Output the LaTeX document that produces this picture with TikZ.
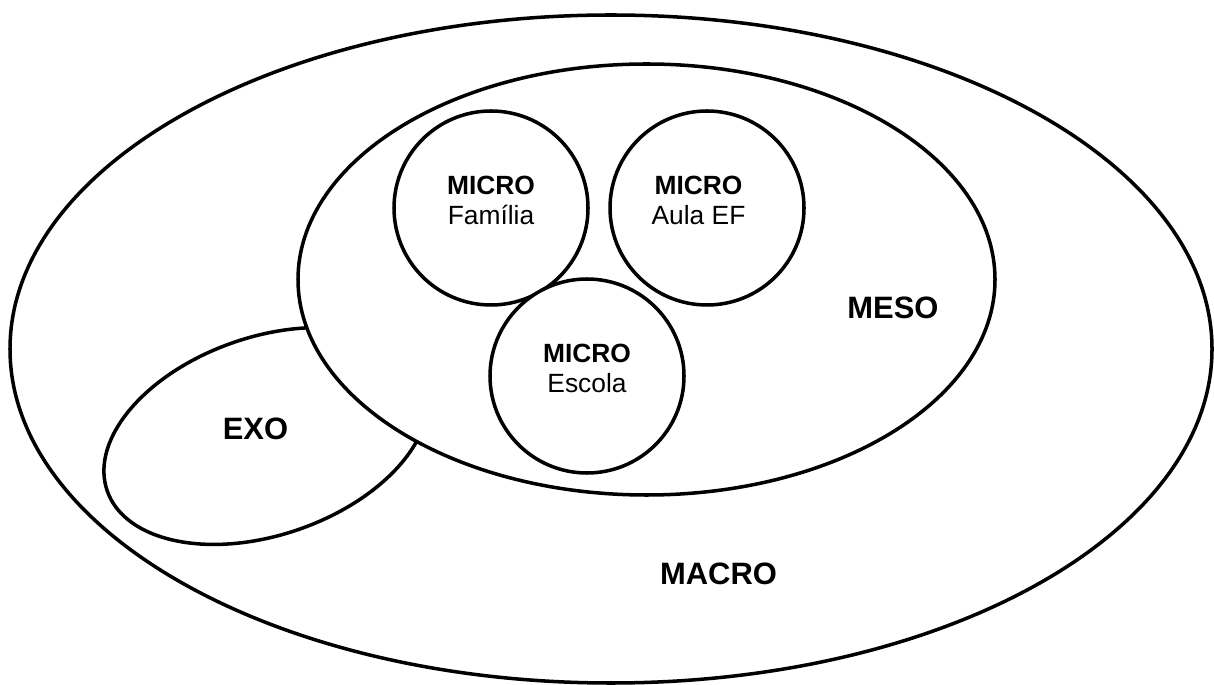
\documentclass[tikz,border=0pt]{standalone}
\usepackage{fontspec}
\setmainfont{Liberation Sans}
\usepackage{tikz}
\usetikzlibrary{shapes,calc,positioning}

\begin{document}
\begin{tikzpicture}[
  ring/.style={draw=black, line width=2pt, fill=white},
  micro/.style={ring, circle, minimum size=3.88cm, inner sep=0pt},
  lbl/.style={inner sep=0pt, align=center, font=\fontsize{15}{17}\selectfont},
  big/.style={inner sep=0pt, anchor=base, font=\fontsize{17.6}{20}\selectfont\bfseries}]
\useasboundingbox (0,0) rectangle (24.28,13.68);
% macro
\draw[ring] (12.22,6.70) ellipse [x radius=12.02, y radius=6.68];
% exo, partly under meso
\draw[ring, rotate around={19:(5.32,4.96)}] (5.32,4.96) ellipse [x radius=3.36, y radius=1.98];
% meso
\draw[ring] (12.93,8.09) ellipse [x radius=6.97, y radius=4.31];
% micro circles
\node[micro] (familia) at (9.82,9.52) {};
\node[micro] (aula) at (14.14,9.52) {};
\node[micro] (escola) at (11.74,6.16) {};
\node[lbl] (tfamilia) at (9.82,9.67) {\textbf{MICRO}\\Família};
\node[lbl] (taula) at (13.97,9.67) {\textbf{MICRO}\\Aula EF};
\node[lbl] (tescola) at (11.74,6.32) {\textbf{MICRO}\\Escola};
\node[big] (tmeso) at (17.86,7.30) {MESO};
\node[big] (texo) at (5.11,4.88) {EXO};
\node[big] (tmacro) at (14.37,2.00) {MACRO};
\end{tikzpicture}
\end{document}
